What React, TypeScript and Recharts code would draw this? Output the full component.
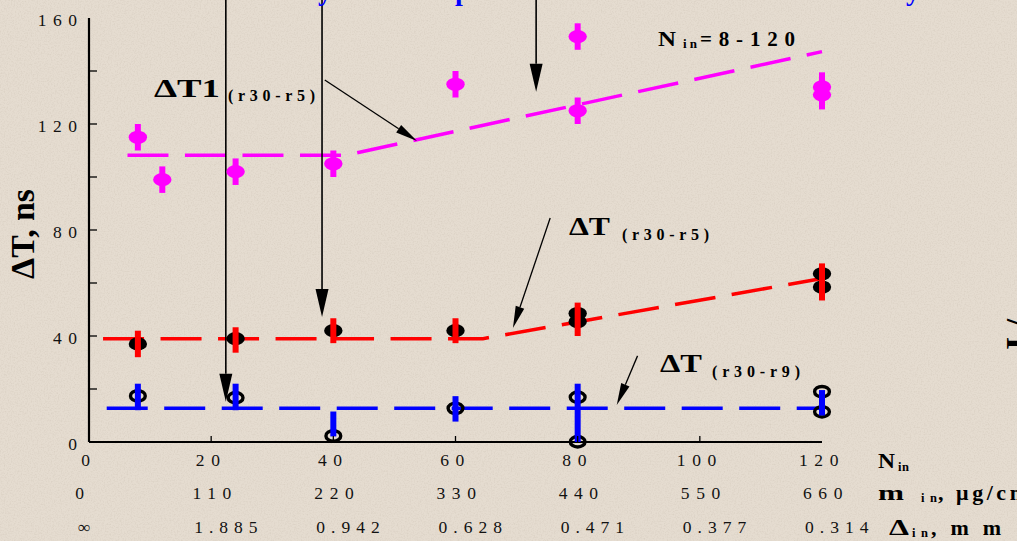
import {
  ComposedChart,
  ErrorBar,
  Line,
  ReferenceLine,
  Scatter,
  XAxis,
  YAxis,
} from "recharts";

// x axis: number of inner wires, plus the two derived scales printed under it
const nTicks = [0, 20, 40, 60, 80, 100, 120];
const massLabels = ["0", "110", "220", "330", "440", "550", "660"];
const gapLabels = ["\u221E", "1.885", "0.942", "0.628", "0.471", "0.377", "0.314"];
const yTicks = [0, 20, 40, 60, 80, 100, 120, 140, 160];

// ΔT1(r30-r5) — magenta points
const dt1X = [8, 12, 24, 40, 60, 80, 80, 120, 120];
const dt1Y = [115, 99, 102, 105, 135, 153, 125, 134, 131];
const dt1BarX = [8, 12, 24, 40, 60, 80, 80, 120];
const dt1BarY = [115, 99, 102, 105, 135, 153, 125, 132.5];
const dt1BarErr = [5, 5, 5, 5, 5, 5, 5, 7];
const dt1FitX = [6.3, 42, 120];
const dt1FitY = [108.2, 108.2, 147.3];

// ΔT(r30-r5) — black dots, red bars
const dt5X = [8, 24, 40, 60, 80, 80, 120, 120];
const dt5Y = [37, 39, 42, 42, 48.5, 45.4, 63.5, 58.5];
const dt5BarX = [8, 24, 40, 60, 80, 120];
const dt5BarY = [37, 38.5, 42, 42, 46.3, 60.4];
const dt5BarErr = [5, 4.8, 4.7, 4.7, 6.3, 7];
const dt5FitX = [2.3, 64.5, 120];
const dt5FitY = [39, 39, 61.7];

// ΔT(r30-r9) — black rings, blue bars
const dt9X = [8, 24, 40, 60, 80, 80, 120, 120];
const dt9Y = [17.4, 16.7, 2.3, 12.7, 16.9, 0.1, 19, 11.4];
const dt9BarX = [8, 24, 40, 60, 80, 120];
const dt9BarY = [17, 17, 6.8, 12.5, 11, 14.8];
const dt9BarErr = [5, 5, 4.7, 4.8, 11, 4.8];
const dt9FitX = [2.9, 120];
const dt9FitY = [12.7, 12.7];

// annotation arrows, in data units [x1, y1, x2, y2]
const tallArrows = [
  [22.4, 168, 22.4, 15.2],
  [38.15, 168, 38.15, 47.2],
  [73.2, 168, 73.2, 132.2],
];
const shortArrows = [
  [38.6, 136.6, 53.7, 113.6],
  [75.5, 84.5, 69.4, 43.0],
  [89.8, 32.5, 86.4, 14.0],
];

const SERIF = "'Liberation Serif', 'Times New Roman', serif";
const W = 1017;
const H = 541;

const pts = (xs: number[], ys: number[]) => xs.map((x, i) => ({ x, y: ys[i] }));
const bars = (xs: number[], ys: number[], es: number[]) =>
  xs.map((x, i) => ({ x, y: ys[i], e: es[i] }));

const arrowShape = (head: number, half: number, sw: number) => (p: any) => {
  const { x1, y1, x2, y2 } = p;
  const dx = x2 - x1;
  const dy = y2 - y1;
  const len = Math.hypot(dx, dy) || 1;
  const ux = dx / len;
  const uy = dy / len;
  const bx = x2 - ux * head;
  const by = y2 - uy * head;
  return (
    <g>
      <line x1={x1} y1={y1} x2={bx} y2={by} stroke="#000" strokeWidth={sw} />
      <polygon
        points={`${x2},${y2} ${bx - uy * half},${by + ux * half} ${bx + uy * half},${by - ux * half}`}
        fill="#000"
      />
    </g>
  );
};

const tickText = {
  fontFamily: SERIF,
  fontSize: 17.5,
  letterSpacing: 6.6,
  fill: "#111",
};

function BottomTick(props: any) {
  const { x, y, payload } = props;
  const v = payload.value;
  const i = nTicks.indexOf(v);
  return (
    <g>
      {v > 0 && v < 120 && (
        <line x1={x} x2={x} y1={y} y2={y - 6} stroke="#000" strokeWidth={1.3} />
      )}
      <text x={x} y={y + 23.5} textAnchor="middle" {...tickText}>
        {v}
      </text>
      <text x={x + (i === 0 ? -6 : 4)} y={y + 56.5} textAnchor="middle" {...tickText}>
        {massLabels[i]}
      </text>
      <text x={x + (i === 0 ? -11 : -17)} y={y + 91} textAnchor="start" {...tickText} letterSpacing={6}>
        {gapLabels[i]}
      </text>
    </g>
  );
}

function TopTick(props: any) {
  const { x, y, payload } = props;
  const v = payload.value;
  if (v <= 0 || v >= 120) return <g />;
  return <line x1={x} x2={x} y1={y} y2={y + 6} stroke="#000" strokeWidth={1.3} />;
}

function LeftTick(props: any) {
  const { x, y, payload } = props;
  const v = payload.value;
  return (
    <g>
      {v > 0 && v < 160 && (
        <line x1={x} x2={x + 8} y1={y} y2={y} stroke="#000" strokeWidth={1.3} />
      )}
      {v % 40 === 0 && (
        <text x={x - 5.3} y={y + 7.5} textAnchor="end" {...tickText}>
          {v}
        </text>
      )}
    </g>
  );
}

function RightTick(props: any) {
  const { x, y, payload } = props;
  const v = payload.value;
  if (v <= 0 || v >= 160) return <g />;
  return <line x1={x} x2={x - 8} y1={y} y2={y} stroke="#000" strokeWidth={1.3} />;
}

const filledDot = (fill: string) => (p: any) =>
  <ellipse cx={p.cx} cy={p.cy} rx={9.2} ry={6.6} fill={fill} />;
const ringDot = (p: any) => (
  <ellipse cx={p.cx} cy={p.cy} rx={7.4} ry={5.2} fill="none" stroke="#000" strokeWidth={3.4} />
);
const noDot = () => <g />;

const dash = "41 16.5";

export default function App() {
  return (
    <div
      style={{
        position: "absolute",
        left: 0,
        top: 0,
        width: W,
        height: H,
        overflow: "hidden",
        background: "#e5dcd0",
      }}
    >
      <svg width={W} height={H} style={{ position: "absolute", left: 0, top: 0 }}>
        <defs>
          <filter id="paper" x="0" y="0" width="100%" height="100%">
            <feTurbulence type="fractalNoise" baseFrequency="0.7" numOctaves={2} seed={4} />
            <feColorMatrix
              type="matrix"
              values="0 0 0 0 0.55  0 0 0 0 0.48  0 0 0 0 0.40  0 0 0 -2.2 1.25"
            />
          </filter>
        </defs>
        <rect width={W} height={H} filter="url(#paper)" opacity={0.3} />
      </svg>

      <div style={{ position: "absolute", left: 0, top: 0 }}>
        <ComposedChart width={W} height={H} margin={{ top: 18, right: 195, bottom: 0, left: 0 }}>
          <XAxis
            dataKey="x"
            type="number"
            domain={[0, 120]}
            ticks={nTicks}
            interval={0}
            height={99}
            tickSize={0}
            tickMargin={0}
            tickLine={false}
            axisLine={{ stroke: "#000", strokeWidth: 2.2 }}
            tick={<BottomTick />}
          />
          <XAxis
            xAxisId="top"
            orientation="top"
            type="number"
            domain={[0, 120]}
            ticks={nTicks}
            interval={0}
            height={0}
            tickSize={0}
            tickMargin={0}
            tickLine={false}
            axisLine={{ stroke: "#000", strokeWidth: 1.5 }}
            tick={<TopTick />}
          />
          <YAxis
            dataKey="y"
            type="number"
            domain={[0, 160]}
            ticks={yTicks}
            interval={0}
            width={89}
            tickSize={0}
            tickMargin={0}
            tickLine={false}
            axisLine={{ stroke: "#000", strokeWidth: 2.2 }}
            tick={<LeftTick />}
          />
          <YAxis
            yAxisId="right"
            orientation="right"
            type="number"
            domain={[0, 160]}
            ticks={yTicks}
            interval={0}
            width={0}
            tickSize={0}
            tickMargin={0}
            tickLine={false}
            axisLine={{ stroke: "#000", strokeWidth: 1.5 }}
            tick={<RightTick />}
          />

          <Line
            data={pts(dt9FitX, dt9FitY)}
            dataKey="y"
            type="linear"
            stroke="#0000ff"
            strokeWidth={3.5}
            strokeDasharray={dash}
            dot={false}
            activeDot={false}
            isAnimationActive={false}
          />
          <Line
            data={pts(dt5FitX, dt5FitY)}
            dataKey="y"
            type="linear"
            stroke="#ff0000"
            strokeWidth={3.5}
            strokeDasharray={dash}
            dot={false}
            activeDot={false}
            isAnimationActive={false}
          />
          <Line
            data={pts(dt1FitX, dt1FitY)}
            dataKey="y"
            type="linear"
            stroke="#ff00ff"
            strokeWidth={3.5}
            strokeDasharray={dash}
            dot={false}
            activeDot={false}
            isAnimationActive={false}
          />

          <Scatter data={pts(dt5X, dt5Y)} shape={filledDot("#000")} isAnimationActive={false} />
          <Scatter data={pts(dt9X, dt9Y)} shape={ringDot} isAnimationActive={false} />

          <Scatter data={bars(dt5BarX, dt5BarY, dt5BarErr)} shape={noDot} isAnimationActive={false}>
            <ErrorBar dataKey="e" direction="y" width={0} stroke="#ff0000" strokeWidth={6} zIndex={700} isAnimationActive={false} />
          </Scatter>
          <Scatter data={bars(dt9BarX, dt9BarY, dt9BarErr)} shape={noDot} isAnimationActive={false}>
            <ErrorBar dataKey="e" direction="y" width={0} stroke="#0000ff" strokeWidth={6} zIndex={700} isAnimationActive={false} />
          </Scatter>
          <Scatter data={bars(dt1BarX, dt1BarY, dt1BarErr)} shape={noDot} isAnimationActive={false}>
            <ErrorBar dataKey="e" direction="y" width={0} stroke="#ff00ff" strokeWidth={6} zIndex={700} isAnimationActive={false} />
          </Scatter>
          <Scatter data={pts(dt1X, dt1Y)} shape={filledDot("#ff00ff")} isAnimationActive={false} />

          {tallArrows.map((a, i) => (
            <ReferenceLine
              key={`t${i}`}
              segment={[{ x: a[0], y: a[1] }, { x: a[2], y: a[3] }]}
              ifOverflow="visible"
              shape={arrowShape(28, 6.5, 1.6)}
            />
          ))}
          {shortArrows.map((a, i) => (
            <ReferenceLine
              key={`s${i}`}
              segment={[{ x: a[0], y: a[1] }, { x: a[2], y: a[3] }]}
              ifOverflow="visible"
              shape={arrowShape(22, 4.5, 1.3)}
            />
          ))}
        </ComposedChart>
      </div>

      <svg
        width={W}
        height={H}
        style={{ position: "absolute", left: 0, top: 0, pointerEvents: "none" }}
        fontFamily={SERIF}
        fontWeight={700}
        fill="#000"
      >
        {/* cropped title descenders */}
        <g fill="#0000ff" fontSize={28}>
          <text x={318} y={-0.5}>y</text>
          <text x={455} y={-0.5}>p</text>
          <text x={906} y={-0.5}>y</text>
        </g>

        <text
          transform="rotate(-90)"
          x={-234}
          y={34}
          textAnchor="middle"
          fontSize={34}
          textLength={90}
          lengthAdjust="spacingAndGlyphs"
        >
          ΔT, ns
        </text>

        <text x={154} y={96.5} fontSize={25} textLength={66} lengthAdjust="spacingAndGlyphs">ΔT1</text>
        <text x={228} y={100.5} fontSize={16} textLength={87}>(r30-r5)</text>

        <text x={569} y={235} fontSize={26} textLength={41} lengthAdjust="spacingAndGlyphs">ΔT</text>
        <text x={622} y={240} fontSize={16} textLength={87}>(r30-r5)</text>

        <text x={660} y={371.5} fontSize={26} textLength={42} lengthAdjust="spacingAndGlyphs">ΔT</text>
        <text x={712} y={376.5} fontSize={16} textLength={88}>(r30-r9)</text>

        <text x={658} y={46} fontSize={22} textLength={18} lengthAdjust="spacingAndGlyphs">N</text>
        <text x={683} y={48} fontSize={13} textLength={14}>in</text>
        <text x={700} y={46} fontSize={21} textLength={95}>=8-120</text>

        <text x={878} y={468} fontSize={22} textLength={17} lengthAdjust="spacingAndGlyphs">N</text>
        <text x={898} y={471} fontSize={12.5} textLength={11}>in</text>

        <text x={878} y={500} fontSize={22} textLength={26} lengthAdjust="spacingAndGlyphs">m</text>
        <text x={921} y={502} fontSize={12.5} textLength={16}>in</text>
        <text x={938} y={500} fontSize={22} textLength={90}>, μg/cm</text>

        <text x={889} y={535} fontSize={24} textLength={20} lengthAdjust="spacingAndGlyphs">Δ</text>
        <text x={912} y={537} fontSize={12.5} textLength={16}>in</text>
        <text x={931} y={535} fontSize={22} textLength={70}>, m m</text>

        {/* cropped label of the neighbouring chart */}
        <text transform="rotate(-90)" x={-350} y={1029} fontSize={34}>I /</text>
      </svg>
    </div>
  );
}
